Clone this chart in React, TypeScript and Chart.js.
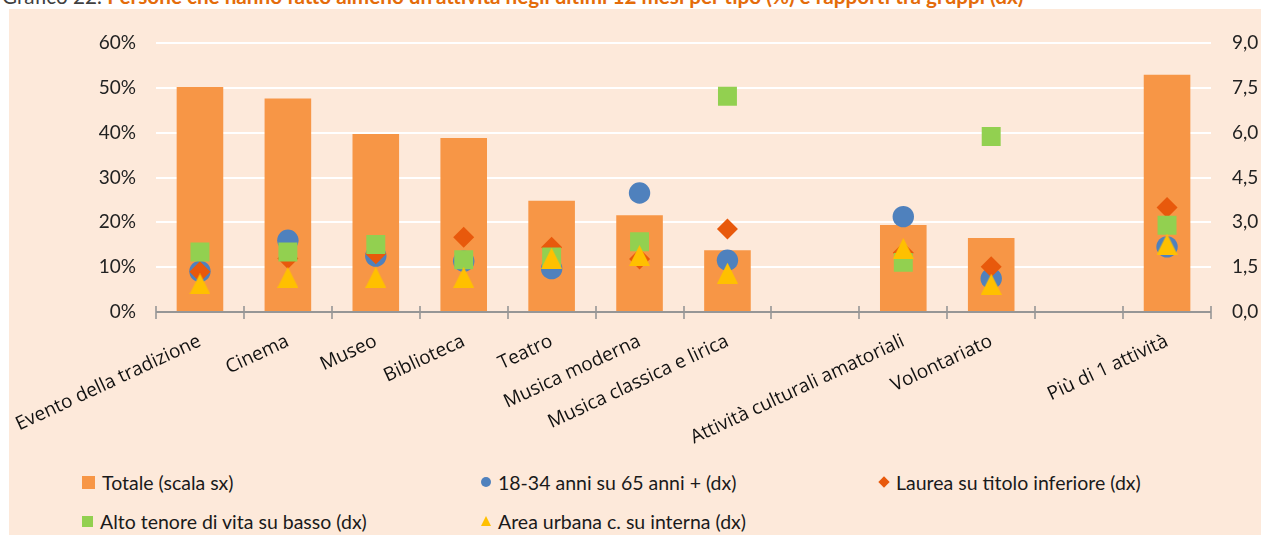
import React, { useEffect, useRef } from "react";
import { Chart, registerables } from "chart.js";

Chart.register(...registerables);

const categories = [
  "Evento della tradizione",
  "Cinema",
  "Museo",
  "Biblioteca",
  "Teatro",
  "Musica moderna",
  "Musica classica e lirica",
  "",
  "Attività culturali amatoriali",
  "Volontariato",
  "",
  "Più di 1 attività",
];

const totale = [50.2, 47.6, 39.7, 38.8, 24.8, 21.6, 13.8, null, 19.4, 16.5, null, 52.9];
const giovaniSuAnziani = [1.36, 2.4, 1.87, 1.7, 1.45, 3.98, 1.73, null, 3.19, 1.12, null, 2.18];
const laureaSuInferiore = [1.35, 1.79, 1.95, 2.5, 2.17, 1.77, 2.78, null, 1.98, 1.51, null, 3.5];
const altoSuBasso = [2.01, 2.01, 2.26, 1.75, 1.84, 2.35, 7.22, null, 1.66, 5.87, null, 2.9];
const urbanaSuInterna = [0.94, 1.16, 1.16, 1.16, 1.8, 1.89, 1.3, null, 2.13, 0.93, null, 2.27];

const leftTicks = [0, 10, 20, 30, 40, 50, 60];
const rightTicks = [0, 1.5, 3, 4.5, 6, 7.5, 9];

const legendItems = [
  { label: "Totale (scala sx)", shape: "bar", color: "#F79646" },
  { label: "18-34 anni su 65 anni + (dx)", shape: "circle", color: "#4F81BD" },
  { label: "Laurea su titolo inferiore (dx)", shape: "diamond", color: "#E8590C" },
  { label: "Alto tenore di vita su basso (dx)", shape: "square", color: "#92D050" },
  { label: "Area urbana c. su interna (dx)", shape: "triangle", color: "#FFC000" },
];

const BG = "#FDE9DA";

function makeTriangle(w: number, h: number, color: string) {
  const c = document.createElement("canvas");
  c.width = w;
  c.height = h;
  const g = c.getContext("2d")!;
  g.fillStyle = color;
  g.beginPath();
  g.moveTo(w / 2, 0);
  g.lineTo(w, h);
  g.lineTo(0, h);
  g.closePath();
  g.fill();
  return c;
}

const crossAxis = {
  id: "crossAxis",
  afterDatasetsDraw(chart: any) {
    const { ctx, chartArea } = chart;
    const { left, right, bottom } = chartArea;
    const n = chart.scales.x.ticks.length;
    ctx.save();
    ctx.strokeStyle = "#969696";
    ctx.lineWidth = 2;
    ctx.beginPath();
    ctx.moveTo(left, bottom);
    ctx.lineTo(right, bottom);
    ctx.stroke();
    ctx.lineWidth = 1.6;
    ctx.beginPath();
    for (let i = 0; i <= n; i++) {
      const x = Math.round(left + ((right - left) * i) / n);
      ctx.moveTo(x, bottom - 6);
      ctx.lineTo(x, bottom + 7);
    }
    ctx.stroke();
    ctx.restore();
  },
};

function LegendMarker({ shape, color }: { shape: string; color: string }) {
  const base: React.CSSProperties = { display: "inline-block", background: color, flex: "none" };
  if (shape === "bar") return <span style={{ ...base, width: 13, height: 13 }} />;
  if (shape === "square") return <span style={{ ...base, width: 11, height: 11 }} />;
  if (shape === "circle") return <span style={{ ...base, width: 10, height: 10, borderRadius: "50%" }} />;
  if (shape === "diamond")
    return (
      <span style={{ ...base, width: 8, height: 8, transform: "rotate(45deg)", margin: "0 1px" }} />
    );
  return (
    <span
      style={{
        display: "inline-block",
        width: 0,
        height: 0,
        borderLeft: "5px solid transparent",
        borderRight: "5px solid transparent",
        borderBottom: `10px solid ${color}`,
        flex: "none",
      }}
    />
  );
}

export default function App() {
  const ref = useRef<HTMLCanvasElement | null>(null);

  useEffect(() => {
    if (!ref.current) return;
    const tri = makeTriangle(21, 21, "#FFC000");
    const chart = new Chart(ref.current, {
      type: "bar",
      data: {
        labels: categories,
        datasets: [
          {
            type: "bar",
            label: "Totale (scala sx)",
            data: totale,
            backgroundColor: "#F79646",
            borderWidth: 0,
            yAxisID: "y",
            barPercentage: 1,
            categoryPercentage: 0.53,
            order: 5,
          } as any,
          {
            type: "line",
            label: "18-34 anni su 65 anni + (dx)",
            data: giovaniSuAnziani,
            yAxisID: "y1",
            showLine: false,
            pointStyle: "circle",
            pointRadius: 10.7,
            pointBackgroundColor: "#4F81BD",
            pointBorderWidth: 0,
            borderColor: "#4F81BD",
            order: 4,
          },
          {
            type: "line",
            label: "Laurea su titolo inferiore (dx)",
            data: laureaSuInferiore,
            yAxisID: "y1",
            showLine: false,
            pointStyle: "rectRot",
            pointRadius: 10.5,
            pointBackgroundColor: "#E8590C",
            pointBorderWidth: 0,
            borderColor: "#E8590C",
            order: 3,
          },
          {
            type: "line",
            label: "Alto tenore di vita su basso (dx)",
            data: altoSuBasso,
            yAxisID: "y1",
            showLine: false,
            pointStyle: "rect",
            pointRadius: 13.4,
            pointBackgroundColor: "#92D050",
            pointBorderWidth: 0,
            borderColor: "#92D050",
            order: 2,
          },
          {
            type: "line",
            label: "Area urbana c. su interna (dx)",
            data: urbanaSuInterna,
            yAxisID: "y1",
            showLine: false,
            pointStyle: tri as any,
            pointRadius: 10.5,
            pointBackgroundColor: "#FFC000",
            pointBorderWidth: 0,
            borderColor: "#FFC000",
            order: 1,
          },
        ],
      },
      options: {
        responsive: false,
        animation: false,
        layout: { padding: { top: 34, bottom: 0, left: 0, right: 0 } },
        plugins: { legend: { display: false }, tooltip: { enabled: false } },
        scales: {
          x: {
            offset: true,
            grid: { display: false },
            border: { display: false },
            ticks: {
              autoSkip: false,
              minRotation: 25,
              maxRotation: 25,
              padding: 10,
              color: "#111111",
              font: { family: "'Open Sans', 'Noto Sans', sans-serif", size: 19 },
            },
            afterFit(scale: any) {
              scale.height = 137;
              scale.paddingLeft = 0;
              scale.paddingRight = 0;
            },
          },
          y: {
            position: "left",
            min: 0,
            max: 60,
            afterBuildTicks(scale: any) {
              scale.ticks = leftTicks.map((v) => ({ value: v }));
            },
            grid: { color: "#FFFFFF", lineWidth: 2, drawTicks: false },
            border: { display: false },
            ticks: {
              padding: 20,
              color: "#222222",
              font: { family: "Lato", size: 19 },
              callback: (v: any) => `${v}%`,
            },
            afterFit(scale: any) {
              scale.width = 147;
            },
          },
          y1: {
            position: "right",
            min: 0,
            max: 9,
            afterBuildTicks(scale: any) {
              scale.ticks = rightTicks.map((v) => ({ value: v }));
            },
            grid: { display: false, drawTicks: false },
            border: { display: false },
            ticks: {
              padding: 21,
              color: "#222222",
              font: { family: "Lato", size: 19 },
              callback: (v: any) => Number(v).toFixed(1).replace(".", ","),
            },
            afterFit(scale: any) {
              scale.width = 50;
            },
          },
        },
      },
      plugins: [crossAxis],
    });
    return () => chart.destroy();
  }, []);

  const legendPos = [
    { left: 82, top: 482 },
    { left: 481, top: 482 },
    { left: 879, top: 482 },
    { left: 82, top: 521 },
    { left: 481, top: 521 },
  ];

  return (
    <div
      style={{
        position: "absolute",
        left: 0,
        top: 0,
        width: 1261,
        height: 535,
        overflow: "hidden",
        background: "#FFFFFF",
      }}
    >
      <div
        style={{
          position: "absolute",
          left: 2,
          top: -14,
          whiteSpace: "nowrap",
          fontFamily: "Lato",
          fontSize: 20.7,
          lineHeight: "21px",
          color: "#404040",
        }}
      >
        Grafico 22.{" "}
        <span style={{ color: "#E46C0A", fontWeight: "bold" }}>
          Persone che hanno fatto almeno un’attività negli ultimi 12 mesi per tipo (%) e rapporti tra gruppi (dx)
        </span>
      </div>
      <div
        style={{
          position: "absolute",
          left: 9,
          top: 9,
          width: 1252,
          height: 526,
          background: BG,
        }}
      />
      <canvas
        ref={ref}
        width={1252}
        height={440}
        style={{ position: "absolute", left: 9, top: 9, width: 1252, height: 440 }}
      />
      {legendItems.map((it, i) => (
        <div
          key={it.label}
          style={{
            position: "absolute",
            left: legendPos[i].left,
            top: legendPos[i].top - 12,
            height: 24,
            display: "flex",
            alignItems: "center",
            gap: 7,
            whiteSpace: "nowrap",
            fontFamily: "Lato",
            fontSize: 19.5,
            color: "#1a1a1a",
          }}
        >
          <LegendMarker shape={it.shape} color={it.color} />
          <span>{it.label}</span>
        </div>
      ))}
    </div>
  );
}
